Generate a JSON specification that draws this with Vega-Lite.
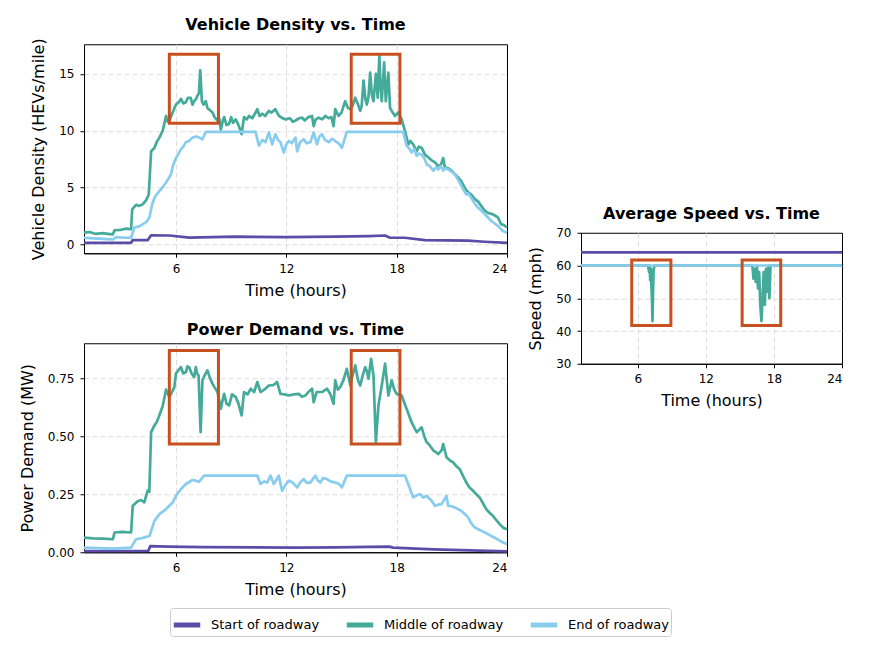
{
  "$schema": "https://vega.github.io/schema/vega-lite/v6.json",
  "padding": {"left": 18, "top": 16, "right": 5, "bottom": 5},
  "background": "white",
  "datasets": {
    "dS": [{"t":1,"v":0.15},{"t":3.56,"v":0.15},{"t":3.65,"v":0.4},{"t":4.47,"v":0.4},{"t":4.65,"v":0.82},{"t":5.64,"v":0.8},{"t":6.72,"v":0.62},{"t":9.25,"v":0.7},{"t":11.96,"v":0.65},{"t":14.66,"v":0.7},{"t":16.47,"v":0.75},{"t":17.37,"v":0.8},{"t":17.64,"v":0.6},{"t":18.45,"v":0.6},{"t":19.54,"v":0.4},{"t":21.88,"v":0.35},{"t":22.78,"v":0.25},{"t":24,"v":0.15}],
    "dM": [{"t":1,"v":1.05},{"t":1.3,"v":1.1},{"t":1.6,"v":0.95},{"t":2.03,"v":1.0},{"t":2.3,"v":0.95},{"t":2.57,"v":0.9},{"t":2.66,"v":1.26},{"t":3.0,"v":1.3},{"t":3.3,"v":1.4},{"t":3.56,"v":1.35},{"t":3.62,"v":3.1},{"t":3.83,"v":3.5},{"t":4.0,"v":3.4},{"t":4.2,"v":3.55},{"t":4.38,"v":3.9},{"t":4.52,"v":4.4},{"t":4.65,"v":8.2},{"t":4.83,"v":8.5},{"t":4.95,"v":9.0},{"t":5.1,"v":9.4},{"t":5.28,"v":10.0},{"t":5.46,"v":11.3},{"t":5.55,"v":10.8},{"t":5.64,"v":10.9},{"t":5.82,"v":11.6},{"t":6.0,"v":12.3},{"t":6.15,"v":12.5},{"t":6.27,"v":12.8},{"t":6.4,"v":12.4},{"t":6.54,"v":12.5},{"t":6.65,"v":12.9},{"t":6.8,"v":12.9},{"t":6.9,"v":12.3},{"t":6.99,"v":12.6},{"t":7.1,"v":12.8},{"t":7.17,"v":13.1},{"t":7.25,"v":13.3},{"t":7.32,"v":15.3},{"t":7.41,"v":12.6},{"t":7.5,"v":12.3},{"t":7.62,"v":12.6},{"t":7.71,"v":12.0},{"t":7.85,"v":11.8},{"t":7.99,"v":11.6},{"t":8.1,"v":11.2},{"t":8.26,"v":10.9},{"t":8.35,"v":11.1},{"t":8.44,"v":10.1},{"t":8.55,"v":10.9},{"t":8.62,"v":11.2},{"t":8.75,"v":10.5},{"t":8.89,"v":10.6},{"t":9.0,"v":11.2},{"t":9.1,"v":10.7},{"t":9.25,"v":11.0},{"t":9.4,"v":10.5},{"t":9.57,"v":9.7},{"t":9.7,"v":11.2},{"t":9.85,"v":11.0},{"t":9.97,"v":11.3},{"t":10.15,"v":11.1},{"t":10.33,"v":11.6},{"t":10.42,"v":11.9},{"t":10.55,"v":11.3},{"t":10.7,"v":11.5},{"t":10.85,"v":11.3},{"t":11.05,"v":11.75},{"t":11.2,"v":11.6},{"t":11.4,"v":11.9},{"t":11.6,"v":11.3},{"t":11.8,"v":11.1},{"t":11.96,"v":11.0},{"t":12.2,"v":11.1},{"t":12.35,"v":10.8},{"t":12.5,"v":10.9},{"t":12.7,"v":11.1},{"t":12.86,"v":11.15},{"t":13.0,"v":10.9},{"t":13.2,"v":11.2},{"t":13.4,"v":11.3},{"t":13.49,"v":10.4},{"t":13.6,"v":11.0},{"t":13.76,"v":11.15},{"t":13.95,"v":11.0},{"t":14.12,"v":11.3},{"t":14.3,"v":11.1},{"t":14.45,"v":11.2},{"t":14.57,"v":10.4},{"t":14.66,"v":11.9},{"t":14.84,"v":11.3},{"t":15.0,"v":11.6},{"t":15.2,"v":12.6},{"t":15.35,"v":12.0},{"t":15.48,"v":11.9},{"t":15.6,"v":12.2},{"t":15.75,"v":12.9},{"t":15.9,"v":12.3},{"t":16.02,"v":11.75},{"t":16.1,"v":12.2},{"t":16.2,"v":14.4},{"t":16.3,"v":12.8},{"t":16.38,"v":12.3},{"t":16.47,"v":13.0},{"t":16.56,"v":15.1},{"t":16.65,"v":13.2},{"t":16.74,"v":12.6},{"t":16.87,"v":15.0},{"t":16.97,"v":12.9},{"t":17.06,"v":16.7},{"t":17.12,"v":14.0},{"t":17.19,"v":12.6},{"t":17.32,"v":16.0},{"t":17.41,"v":12.6},{"t":17.55,"v":15.1},{"t":17.64,"v":12.0},{"t":17.75,"v":11.7},{"t":17.91,"v":11.3},{"t":18.09,"v":11.6},{"t":18.27,"v":11.0},{"t":18.45,"v":10.0},{"t":18.63,"v":8.8},{"t":18.75,"v":9.1},{"t":18.9,"v":8.8},{"t":19.09,"v":8.2},{"t":19.2,"v":8.6},{"t":19.36,"v":8.5},{"t":19.54,"v":7.9},{"t":19.7,"v":7.7},{"t":19.9,"v":7.4},{"t":20.1,"v":7.2},{"t":20.26,"v":6.9},{"t":20.4,"v":7.0},{"t":20.53,"v":7.6},{"t":20.62,"v":6.8},{"t":20.8,"v":6.7},{"t":20.99,"v":6.5},{"t":21.15,"v":6.2},{"t":21.34,"v":5.9},{"t":21.5,"v":5.6},{"t":21.7,"v":5.0},{"t":21.88,"v":4.6},{"t":22.06,"v":4.4},{"t":22.25,"v":4.0},{"t":22.42,"v":3.8},{"t":22.6,"v":3.4},{"t":22.78,"v":3.0},{"t":22.95,"v":2.8},{"t":23.14,"v":2.7},{"t":23.3,"v":2.6},{"t":23.5,"v":2.4},{"t":23.68,"v":1.8},{"t":23.85,"v":1.7},{"t":24,"v":1.5}],
    "dE": [{"t":1,"v":0.6},{"t":1.5,"v":0.55},{"t":2.03,"v":0.5},{"t":2.57,"v":0.45},{"t":2.75,"v":0.65},{"t":3.2,"v":0.6},{"t":3.56,"v":0.6},{"t":3.74,"v":1.5},{"t":4.0,"v":1.6},{"t":4.2,"v":1.8},{"t":4.4,"v":2.0},{"t":4.56,"v":2.4},{"t":4.7,"v":3.5},{"t":4.83,"v":4.1},{"t":4.95,"v":4.4},{"t":5.1,"v":4.7},{"t":5.3,"v":5.1},{"t":5.46,"v":5.45},{"t":5.6,"v":5.8},{"t":5.73,"v":6.2},{"t":5.85,"v":7.0},{"t":6.0,"v":7.6},{"t":6.15,"v":8.0},{"t":6.27,"v":8.4},{"t":6.4,"v":8.6},{"t":6.54,"v":9.0},{"t":6.7,"v":9.1},{"t":6.9,"v":9.4},{"t":7.1,"v":9.5},{"t":7.26,"v":9.4},{"t":7.44,"v":9.25},{"t":7.62,"v":9.9},{"t":10.33,"v":9.9},{"t":10.51,"v":8.7},{"t":10.7,"v":9.2},{"t":10.87,"v":9.0},{"t":11.05,"v":9.85},{"t":11.23,"v":8.8},{"t":11.41,"v":9.7},{"t":11.55,"v":9.2},{"t":11.68,"v":9.0},{"t":11.86,"v":8.1},{"t":12.0,"v":8.8},{"t":12.14,"v":9.1},{"t":12.3,"v":8.9},{"t":12.5,"v":9.4},{"t":12.59,"v":8.2},{"t":12.75,"v":9.0},{"t":12.95,"v":9.25},{"t":13.1,"v":8.9},{"t":13.31,"v":9.0},{"t":13.49,"v":9.85},{"t":13.67,"v":8.8},{"t":13.8,"v":9.5},{"t":13.94,"v":9.7},{"t":14.1,"v":9.2},{"t":14.3,"v":9.0},{"t":14.5,"v":9.3},{"t":14.66,"v":9.1},{"t":14.85,"v":8.9},{"t":15.02,"v":8.5},{"t":15.29,"v":9.9},{"t":18.36,"v":9.9},{"t":18.54,"v":8.7},{"t":18.7,"v":8.4},{"t":18.81,"v":8.1},{"t":18.95,"v":8.4},{"t":19.09,"v":7.8},{"t":19.2,"v":8.0},{"t":19.36,"v":7.9},{"t":19.5,"v":7.6},{"t":19.63,"v":7.05},{"t":19.8,"v":6.9},{"t":20.0,"v":6.5},{"t":20.15,"v":6.8},{"t":20.26,"v":6.6},{"t":20.4,"v":6.9},{"t":20.53,"v":6.5},{"t":20.65,"v":6.7},{"t":20.8,"v":6.6},{"t":21.0,"v":6.4},{"t":21.16,"v":6.2},{"t":21.3,"v":5.8},{"t":21.43,"v":5.45},{"t":21.6,"v":4.9},{"t":21.79,"v":4.4},{"t":21.9,"v":4.5},{"t":22.06,"v":4.1},{"t":22.25,"v":3.6},{"t":22.42,"v":3.25},{"t":22.6,"v":3.0},{"t":22.78,"v":2.7},{"t":22.95,"v":2.4},{"t":23.14,"v":2.1},{"t":23.3,"v":1.9},{"t":23.5,"v":1.65},{"t":23.65,"v":1.4},{"t":23.77,"v":1.2},{"t":24,"v":1.05}],
    "pS": [{"t":1,"v":0.005},{"t":4.5,"v":0.006},{"t":4.6,"v":0.026},{"t":5.6,"v":0.024},{"t":7.5,"v":0.022},{"t":12.5,"v":0.02},{"t":14.7,"v":0.021},{"t":16.5,"v":0.023},{"t":17.6,"v":0.024},{"t":17.8,"v":0.02},{"t":20,"v":0.012},{"t":22,"v":0.008},{"t":24,"v":0.004}],
    "pM": [{"t":1,"v":0.063},{"t":1.5,"v":0.06},{"t":2.03,"v":0.059},{"t":2.57,"v":0.056},{"t":2.66,"v":0.085},{"t":3.1,"v":0.088},{"t":3.56,"v":0.085},{"t":3.65,"v":0.2},{"t":3.92,"v":0.22},{"t":4.1,"v":0.225},{"t":4.28,"v":0.215},{"t":4.46,"v":0.265},{"t":4.55,"v":0.26},{"t":4.65,"v":0.517},{"t":4.83,"v":0.546},{"t":4.95,"v":0.56},{"t":5.1,"v":0.59},{"t":5.28,"v":0.63},{"t":5.46,"v":0.7},{"t":5.64,"v":0.668},{"t":5.91,"v":0.71},{"t":6.0,"v":0.77},{"t":6.15,"v":0.785},{"t":6.27,"v":0.797},{"t":6.4,"v":0.77},{"t":6.54,"v":0.776},{"t":6.62,"v":0.8},{"t":6.72,"v":0.797},{"t":6.85,"v":0.77},{"t":6.99,"v":0.754},{"t":7.08,"v":0.797},{"t":7.15,"v":0.77},{"t":7.23,"v":0.761},{"t":7.34,"v":0.517},{"t":7.44,"v":0.74},{"t":7.55,"v":0.76},{"t":7.71,"v":0.783},{"t":7.85,"v":0.75},{"t":7.99,"v":0.725},{"t":8.1,"v":0.71},{"t":8.26,"v":0.69},{"t":8.44,"v":0.618},{"t":8.55,"v":0.66},{"t":8.62,"v":0.682},{"t":8.75,"v":0.64},{"t":8.89,"v":0.632},{"t":9.05,"v":0.68},{"t":9.25,"v":0.668},{"t":9.4,"v":0.64},{"t":9.57,"v":0.589},{"t":9.7,"v":0.69},{"t":9.9,"v":0.68},{"t":10.06,"v":0.704},{"t":10.25,"v":0.69},{"t":10.42,"v":0.733},{"t":10.6,"v":0.69},{"t":10.8,"v":0.7},{"t":11.05,"v":0.718},{"t":11.3,"v":0.72},{"t":11.5,"v":0.733},{"t":11.68,"v":0.682},{"t":11.9,"v":0.68},{"t":12.14,"v":0.675},{"t":12.4,"v":0.68},{"t":12.68,"v":0.682},{"t":12.85,"v":0.67},{"t":13.04,"v":0.675},{"t":13.2,"v":0.69},{"t":13.4,"v":0.704},{"t":13.49,"v":0.646},{"t":13.65,"v":0.69},{"t":13.94,"v":0.69},{"t":14.21,"v":0.704},{"t":14.4,"v":0.68},{"t":14.57,"v":0.639},{"t":14.66,"v":0.74},{"t":14.8,"v":0.7},{"t":14.93,"v":0.711},{"t":15.1,"v":0.74},{"t":15.29,"v":0.79},{"t":15.48,"v":0.718},{"t":15.6,"v":0.76},{"t":15.75,"v":0.805},{"t":15.9,"v":0.74},{"t":16.02,"v":0.718},{"t":16.15,"v":0.76},{"t":16.29,"v":0.797},{"t":16.38,"v":0.78},{"t":16.47,"v":0.747},{"t":16.61,"v":0.833},{"t":16.74,"v":0.761},{"t":16.87,"v":0.474},{"t":17.01,"v":0.632},{"t":17.19,"v":0.718},{"t":17.37,"v":0.812},{"t":17.55,"v":0.675},{"t":17.73,"v":0.74},{"t":17.87,"v":0.7},{"t":18.0,"v":0.682},{"t":18.27,"v":0.675},{"t":18.54,"v":0.618},{"t":18.81,"v":0.56},{"t":19.0,"v":0.53},{"t":19.09,"v":0.517},{"t":19.25,"v":0.53},{"t":19.36,"v":0.538},{"t":19.5,"v":0.5},{"t":19.63,"v":0.474},{"t":19.8,"v":0.46},{"t":20.0,"v":0.438},{"t":20.15,"v":0.43},{"t":20.26,"v":0.423},{"t":20.45,"v":0.44},{"t":20.53,"v":0.466},{"t":20.71,"v":0.409},{"t":20.9,"v":0.395},{"t":21.07,"v":0.387},{"t":21.25,"v":0.37},{"t":21.43,"v":0.358},{"t":21.6,"v":0.33},{"t":21.79,"v":0.3},{"t":21.95,"v":0.28},{"t":22.15,"v":0.265},{"t":22.33,"v":0.25},{"t":22.51,"v":0.236},{"t":22.7,"v":0.21},{"t":22.87,"v":0.186},{"t":23.05,"v":0.17},{"t":23.23,"v":0.157},{"t":23.4,"v":0.14},{"t":23.6,"v":0.121},{"t":23.8,"v":0.105},{"t":24,"v":0.099}],
    "pE": [{"t":1,"v":0.02},{"t":1.8,"v":0.018},{"t":2.57,"v":0.016},{"t":3.1,"v":0.018},{"t":3.56,"v":0.02},{"t":3.83,"v":0.056},{"t":4.2,"v":0.062},{"t":4.56,"v":0.07},{"t":4.83,"v":0.135},{"t":5.1,"v":0.164},{"t":5.46,"v":0.186},{"t":5.82,"v":0.214},{"t":6.0,"v":0.243},{"t":6.27,"v":0.272},{"t":6.54,"v":0.294},{"t":6.9,"v":0.311},{"t":7.26,"v":0.304},{"t":7.53,"v":0.33},{"t":10.42,"v":0.33},{"t":10.6,"v":0.294},{"t":10.8,"v":0.305},{"t":10.96,"v":0.3},{"t":11.14,"v":0.33},{"t":11.32,"v":0.294},{"t":11.45,"v":0.31},{"t":11.59,"v":0.33},{"t":11.77,"v":0.265},{"t":11.95,"v":0.29},{"t":12.14,"v":0.308},{"t":12.35,"v":0.3},{"t":12.59,"v":0.279},{"t":12.75,"v":0.3},{"t":12.95,"v":0.315},{"t":13.1,"v":0.3},{"t":13.31,"v":0.3},{"t":13.58,"v":0.33},{"t":13.7,"v":0.31},{"t":13.85,"v":0.3},{"t":14.0,"v":0.32},{"t":14.21,"v":0.315},{"t":14.4,"v":0.305},{"t":14.66,"v":0.3},{"t":14.85,"v":0.295},{"t":15.02,"v":0.279},{"t":15.29,"v":0.33},{"t":18.45,"v":0.33},{"t":18.63,"v":0.294},{"t":18.9,"v":0.236},{"t":19.1,"v":0.245},{"t":19.27,"v":0.25},{"t":19.45,"v":0.235},{"t":19.63,"v":0.243},{"t":19.9,"v":0.222},{"t":20.08,"v":0.2},{"t":20.25,"v":0.205},{"t":20.44,"v":0.207},{"t":20.71,"v":0.243},{"t":20.8,"v":0.2},{"t":21.0,"v":0.198},{"t":21.16,"v":0.193},{"t":21.35,"v":0.185},{"t":21.52,"v":0.178},{"t":21.7,"v":0.165},{"t":21.88,"v":0.15},{"t":22.05,"v":0.125},{"t":22.24,"v":0.107},{"t":22.42,"v":0.1},{"t":22.6,"v":0.092},{"t":22.8,"v":0.085},{"t":22.96,"v":0.078},{"t":23.15,"v":0.07},{"t":23.32,"v":0.063},{"t":23.5,"v":0.055},{"t":23.68,"v":0.046},{"t":23.85,"v":0.04},{"t":24,"v":0.035}],
    "sS": [{"t":1,"v":64},{"t":24,"v":64}],
    "sM": [{"t":1,"v":60},{"t":6.9,"v":60},{"t":7.0,"v":58},{"t":7.05,"v":60},{"t":7.1,"v":55.5},{"t":7.15,"v":59},{"t":7.25,"v":50},{"t":7.3,"v":43},{"t":7.35,"v":52},{"t":7.4,"v":59},{"t":7.5,"v":60},{"t":16.1,"v":60},{"t":16.2,"v":56},{"t":16.3,"v":59},{"t":16.4,"v":55},{"t":16.5,"v":60},{"t":16.6,"v":53},{"t":16.7,"v":58},{"t":16.8,"v":48},{"t":16.9,"v":43},{"t":17.0,"v":50},{"t":17.1,"v":58},{"t":17.2,"v":48},{"t":17.3,"v":59},{"t":17.4,"v":52},{"t":17.5,"v":60},{"t":17.6,"v":50},{"t":17.7,"v":60},{"t":24,"v":60}],
    "sE": [{"t":1,"v":60},{"t":24,"v":60}],
    "dBox": [{"a":5.64,"b":8.31,"lo":10.67,"hi":16.73},{"a":15.53,"b":18.18,"lo":10.67,"hi":16.73}],
    "pBox": [{"a":5.64,"b":8.31,"lo":0.466,"hi":0.869},{"a":15.53,"b":18.18,"lo":0.466,"hi":0.869}],
    "sBox": [{"a":5.47,"b":8.92,"lo":41.7,"hi":61.7},{"a":15.2,"b":18.6,"lo":41.7,"hi":61.7}]
  },
  "hconcat": [
    {
      "vconcat": [
        {
          "title": "Vehicle Density vs. Time",
          "width": 423,
          "height": 209,
          "encoding": {
            "x": {"field": "t", "type": "quantitative", "scale": {"domain": [1, 24], "nice": false, "zero": false}, "axis": {"values": [6, 12, 18, 24], "title": "Time (hours)", "gridOpacity": {"condition": {"test": "datum.value == 24", "value": 0}, "value": 1}}},
            "y": {"field": "v", "type": "quantitative", "scale": {"domain": [-0.76, 17.6], "nice": false, "zero": false}, "axis": {"values": [0, 5, 10, 15], "title": "Vehicle Density (HEVs/mile)"}}
          },
          "layer": [
            {"data": {"name": "dS"}, "mark": {"type": "line", "strokeWidth": 2.7, "strokeJoin": "round"}, "encoding": {"color": {"datum": "Start of roadway", "scale": {"domain": ["Start of roadway", "Middle of roadway", "End of roadway"], "range": ["#5B4DA7", "#44AA99", "#88CCEE"]}, "legend": {"orient": "none", "legendX": 86, "legendY": 564, "direction": "horizontal", "title": null}}}},
            {"data": {"name": "dM"}, "mark": {"type": "line", "strokeWidth": 2.7, "strokeJoin": "round"}, "encoding": {"color": {"datum": "Middle of roadway"}}},
            {"data": {"name": "dE"}, "mark": {"type": "line", "strokeWidth": 2.7, "strokeJoin": "round"}, "encoding": {"color": {"datum": "End of roadway"}}},
            {"data": {"name": "dBox"}, "mark": {"type": "rect", "filled": false, "stroke": "#C8501E", "strokeWidth": 3},
             "encoding": {"x": {"field": "a", "type": "quantitative", "title": "Time (hours)"}, "x2": {"field": "b"}, "y": {"field": "lo", "type": "quantitative", "title": "Vehicle Density (HEVs/mile)"}, "y2": {"field": "hi"}}}
          ]
        },
        {
          "title": "Power Demand vs. Time",
          "width": 423,
          "height": 209,
          "encoding": {
            "x": {"field": "t", "type": "quantitative", "scale": {"domain": [1, 24], "nice": false, "zero": false}, "axis": {"values": [6, 12, 18, 24], "title": "Time (hours)", "gridOpacity": {"condition": {"test": "datum.value == 24", "value": 0}, "value": 1}}},
            "y": {"field": "v", "type": "quantitative", "scale": {"domain": [0, 0.9], "nice": false}, "axis": {"values": [0, 0.25, 0.5, 0.75], "format": ".2f", "title": "Power Demand (MW)", "gridOpacity": {"condition": {"test": "datum.value == 0", "value": 0}, "value": 1}}}
          },
          "layer": [
            {"data": {"name": "pS"}, "mark": {"type": "line", "strokeWidth": 2.7, "strokeJoin": "round"}, "encoding": {"color": {"datum": "Start of roadway"}}},
            {"data": {"name": "pM"}, "mark": {"type": "line", "strokeWidth": 2.7, "strokeJoin": "round"}, "encoding": {"color": {"datum": "Middle of roadway"}}},
            {"data": {"name": "pE"}, "mark": {"type": "line", "strokeWidth": 2.7, "strokeJoin": "round"}, "encoding": {"color": {"datum": "End of roadway"}}},
            {"data": {"name": "pBox"}, "mark": {"type": "rect", "filled": false, "stroke": "#C8501E", "strokeWidth": 3},
             "encoding": {"x": {"field": "a", "type": "quantitative", "title": "Time (hours)"}, "x2": {"field": "b"}, "y": {"field": "lo", "type": "quantitative", "title": "Power Demand (MW)"}, "y2": {"field": "hi"}}}
          ]
        }
      ],
      "spacing": 22,
      "resolve": {"scale": {"color": "shared"}, "legend": {"color": "shared"}}
    },
    {
      "title": "Average Speed vs. Time",
      "width": 261,
      "height": 131,
      "encoding": {
        "x": {"field": "t", "type": "quantitative", "scale": {"domain": [1, 24], "nice": false, "zero": false}, "axis": {"values": [6, 12, 18, 24], "title": "Time (hours)", "gridOpacity": {"condition": {"test": "datum.value == 24", "value": 0}, "value": 1}}},
        "y": {"field": "v", "type": "quantitative", "scale": {"domain": [30, 70], "nice": false, "zero": false}, "axis": {"values": [30, 40, 50, 60, 70], "title": "Speed (mph)", "gridOpacity": {"condition": {"test": "datum.value == 30 || datum.value == 70", "value": 0}, "value": 1}}}
      },
      "layer": [
        {"data": {"name": "sS"}, "mark": {"type": "line", "strokeWidth": 2.7, "strokeJoin": "round"}, "encoding": {"color": {"datum": "Start of roadway"}}},
        {"data": {"name": "sM"}, "mark": {"type": "line", "strokeWidth": 2.7, "strokeJoin": "round"}, "encoding": {"color": {"datum": "Middle of roadway"}}},
        {"data": {"name": "sE"}, "mark": {"type": "line", "strokeWidth": 2.7, "strokeJoin": "round"}, "encoding": {"color": {"datum": "End of roadway"}}},
        {"data": {"name": "sBox"}, "mark": {"type": "rect", "filled": false, "stroke": "#C8501E", "strokeWidth": 3},
         "encoding": {"x": {"field": "a", "type": "quantitative", "title": "Time (hours)"}, "x2": {"field": "b"}, "y": {"field": "lo", "type": "quantitative", "title": "Speed (mph)"}, "y2": {"field": "hi"}}}
      ]
    }
  ],
  "spacing": 18,
  "center": true,
  "resolve": {"scale": {"color": "shared"}, "legend": {"color": "shared"}},
  "config": {
    "font": "DejaVu Sans",
    "view": {"stroke": "black", "strokeWidth": 1},
    "axis": {
      "domainColor": "black", "domainWidth": 1,
      "tickColor": "black", "tickSize": 4,
      "labelColor": "black", "labelFontSize": 12, "labelPadding": 6,
      "titleColor": "black", "titleFontSize": 16, "titleFontWeight": "normal", "titlePadding": 8,
      "gridColor": "#d9d9d9", "gridDash": [5, 3], "gridWidth": 0.9
    },
    "axisY": {"labelPadding": 6, "titlePadding": 12},
    "title": {"fontSize": 16, "fontWeight": "bold", "color": "black", "offset": 5},
    "legend": {
      "symbolType": "stroke", "symbolStrokeWidth": 5, "symbolSize": 700,
      "labelFontSize": 13, "labelColor": "black", "labelOffset": 8,
      "columnPadding": 16, "padding": 1,
      "strokeColor": "#cccccc", "cornerRadius": 3, "fillColor": "white"
    }
  }
}
